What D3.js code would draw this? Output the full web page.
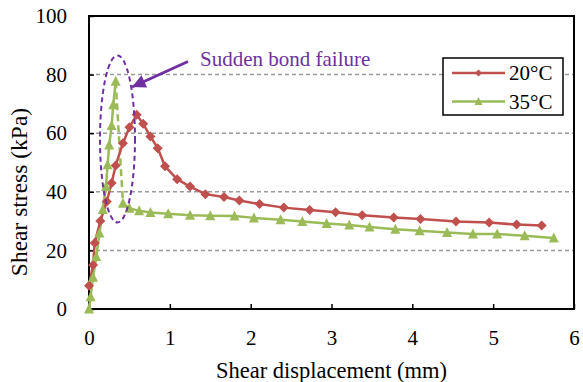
<!DOCTYPE html>
<html><head><meta charset="utf-8">
<script src="https://cdn.jsdelivr.net/npm/d3@7"></script>
<style>html,body{margin:0;padding:0;background:#fff;}svg{display:block;}</style>
</head><body>
<script>
// ---- data ----
const xTicks = [0, 1, 2, 3, 4, 5, 6];
const yTicks = [0, 20, 40, 60, 80, 100];
const gridValues = [20, 40, 60, 80];
const seriesNames = ["20°C", "35°C"];
const red20X = [0, 0.05, 0.07, 0.14, 0.22, 0.28, 0.33, 0.42, 0.5, 0.59, 0.67, 0.76, 0.85, 0.94, 1.09, 1.25, 1.44, 1.67, 1.86, 2.11, 2.41, 2.73, 3.05, 3.38, 3.77, 4.10, 4.54, 4.95, 5.29, 5.60];
const red20Y = [7.9, 15, 22.5, 30, 36.7, 43, 49, 56.6, 62, 66.3, 63.2, 58.9, 54.9, 48.7, 44.3, 41.8, 39.2, 38.2, 37, 35.8, 34.6, 33.8, 33, 32, 31.2, 30.7, 29.9, 29.5, 28.8, 28.5];
const green35RiseX = [0, 0.02, 0.05, 0.09, 0.13, 0.17, 0.21, 0.23, 0.25, 0.28, 0.30, 0.33];
const green35RiseY = [0, 4.2, 10.8, 17.9, 25.9, 34, 41.8, 49.2, 56, 62.6, 69.7, 77.7];
const green35PostX = [0.42, 0.5, 0.62, 0.76, 0.98, 1.25, 1.5, 1.80, 2.04, 2.37, 2.64, 2.94, 3.22, 3.47, 3.79, 4.09, 4.43, 4.75, 5.05, 5.39, 5.75];
const green35PostY = [36.1, 34.4, 33.5, 32.9, 32.5, 32, 31.8, 31.7, 31.1, 30.5, 29.9, 29.2, 28.7, 28, 27.2, 26.7, 26.1, 25.6, 25.6, 25, 24.2];
const annotationText = "Sudden bond failure";
const xTitle = "Shear displacement (mm)";
const yTitle = "Shear stress (kPa)";

// ---- layout ----
const W = 583, H = 382;
const RED = "#C0504D", GREEN = "#9BBB59", PURPLE = "#7030A0";
const FONT = "'Liberation Serif','Times New Roman',serif";
const x = d3.scaleLinear().domain([0, 6]).range([89, 574]);
const y = d3.scaleLinear().domain([0, 100]).range([309, 16]);

const svg = d3.select("body").append("svg").attr("width", W).attr("height", H)
  .style("font-family", FONT);

// grid
svg.append("g").selectAll("line").data(gridValues).join("line")
  .attr("x1", x(0)).attr("x2", x(6))
  .attr("y1", d => y(d)).attr("y2", d => y(d))
  .attr("stroke", "#9a9a9a").attr("stroke-width", 1.5).attr("stroke-dasharray", "4,3");

// axes (inward ticks)
const xAxis = d3.axisBottom(x).tickValues(xTicks).tickSize(-5).tickPadding(21).tickFormat(d3.format("d"));
const gx = svg.append("g").attr("transform", `translate(0,${y(0)})`).call(xAxis);
gx.select(".domain").remove();
gx.selectAll("line").attr("stroke", "#000").attr("stroke-width", 1.5);
gx.selectAll("text").attr("font-size", 21).attr("font-family", FONT).attr("fill", "#000");

const yAxis = d3.axisLeft(y).tickValues(yTicks).tickSize(-5).tickPadding(22).tickFormat(d3.format("d"));
const gy = svg.append("g").attr("transform", `translate(${x(0)},0)`).call(yAxis);
gy.select(".domain").remove();
gy.selectAll("line").attr("stroke", "#000").attr("stroke-width", 1.5);
gy.selectAll("text").attr("font-size", 21).attr("font-family", FONT).attr("fill", "#000");

// frame
svg.append("rect").attr("x", x(0)).attr("y", y(100))
  .attr("width", x(6) - x(0)).attr("height", y(0) - y(100))
  .attr("fill", "none").attr("stroke", "#000").attr("stroke-width", 2);

// titles
svg.append("text").attr("x", (x(0) + x(6)) / 2).attr("y", 378).attr("text-anchor", "middle")
  .attr("font-size", 22.5).text(xTitle);
svg.append("text").attr("transform", `translate(27,192) rotate(-90)`)
  .attr("text-anchor", "middle").attr("font-size", 23.5).text(yTitle);

// markers
const diamond = r => `M0,${-r}L${r},0L0,${r}L${-r},0Z`;
const triangle = s => `M0,${-s * 0.55}L${s / 2},${s * 0.45}L${-s / 2},${s * 0.45}Z`;
const line = d3.line().x(d => x(d[0])).y(d => y(d[1]));

const redPts = red20X.map((v, i) => [v, red20Y[i]]);
const gRise = green35RiseX.map((v, i) => [v, green35RiseY[i]]);
const gPost = green35PostX.map((v, i) => [v, green35PostY[i]]);

// green lines
svg.append("path").attr("d", line(gRise)).attr("fill", "none").attr("stroke", GREEN).attr("stroke-width", 2.5);
svg.append("path").attr("d", line([gRise[gRise.length - 1], gPost[0]])).attr("fill", "none")
  .attr("stroke", GREEN).attr("stroke-width", 2.5).attr("stroke-dasharray", "7,4");
svg.append("path").attr("d", line(gPost)).attr("fill", "none").attr("stroke", GREEN).attr("stroke-width", 2.5);

// red line
svg.append("path").attr("d", line(redPts)).attr("fill", "none").attr("stroke", RED).attr("stroke-width", 2.5);

// red markers
svg.append("g").selectAll("path").data(redPts).join("path")
  .attr("transform", d => `translate(${x(d[0])},${y(d[1])})`)
  .attr("d", diamond(5)).attr("fill", RED);
// green markers
svg.append("g").selectAll("path").data(gRise.concat(gPost)).join("path")
  .attr("transform", d => `translate(${x(d[0])},${y(d[1])})`)
  .attr("d", triangle(10)).attr("fill", GREEN);

// ellipse annotation
svg.append("ellipse").attr("cx", 117.5).attr("cy", 139).attr("rx", 17.5).attr("ry", 83.5)
  .attr("fill", "none").attr("stroke", PURPLE).attr("stroke-width", 2).attr("stroke-dasharray", "5,3.5");

// arrow
svg.append("defs").append("marker").attr("id", "ah").attr("viewBox", "0 0 10 10")
  .attr("refX", 10).attr("refY", 5).attr("markerWidth", 5).attr("markerHeight", 4.5)
  .attr("markerUnits", "strokeWidth").attr("orient", "auto")
  .append("path").attr("d", "M0,0L10,5L0,10Z").attr("fill", PURPLE);
svg.append("line").attr("x1", 188).attr("y1", 61.5).attr("x2", 132).attr("y2", 87)
  .attr("stroke", PURPLE).attr("stroke-width", 3).attr("marker-end", "url(#ah)");

svg.append("text").attr("x", 200).attr("y", 66).attr("font-size", 21).attr("fill", PURPLE).text(annotationText);

// legend
const lg = svg.append("g");
lg.append("rect").attr("x", 443).attr("y", 58).attr("width", 120).attr("height", 57)
  .attr("fill", "#fff").attr("stroke", "#000").attr("stroke-width", 1.5);
const legendItems = [{ name: seriesNames[0], color: RED, shape: diamond(3.5), yy: 73 },
                     { name: seriesNames[1], color: GREEN, shape: triangle(8), yy: 101.5 }];
legendItems.forEach(it => {
  lg.append("line").attr("x1", 452).attr("x2", 505).attr("y1", it.yy).attr("y2", it.yy)
    .attr("stroke", it.color).attr("stroke-width", 2.5);
  lg.append("path").attr("transform", `translate(478.5,${it.yy})`).attr("d", it.shape).attr("fill", it.color);
  lg.append("text").attr("x", 509).attr("y", it.yy + 7).attr("font-size", 21).text(it.name);
});
</script>
</body></html>
